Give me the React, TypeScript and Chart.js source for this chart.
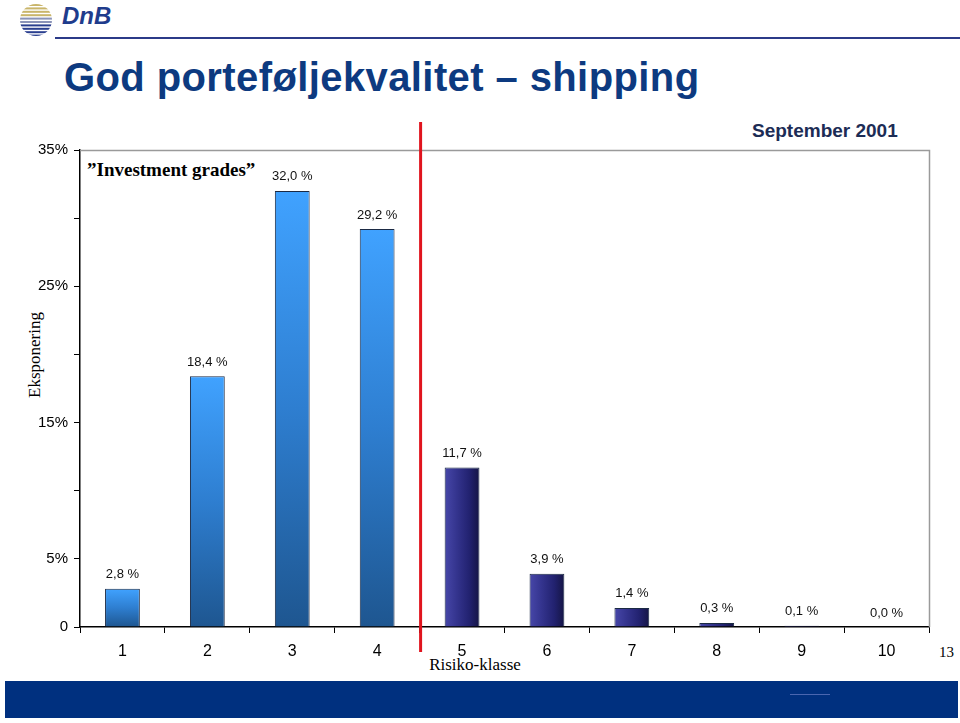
import React, { useEffect, useRef } from "react";
import { Chart, registerables } from "chart.js";

Chart.register(...registerables);

const categories = ["1", "2", "3", "4", "5", "6", "7", "8", "9", "10"];
const exposure = [2.8, 18.4, 32.0, 29.2, 11.7, 3.9, 1.4, 0.3, 0.1, 0.0];
const yTickLabels: Record<number, string> = { 0: "0", 5: "5%", 15: "15%", 25: "25%", 35: "35%" };
const investmentGradeCount = 4;

const SANS = "'Liberation Sans', Arial, sans-serif";
const SERIF = "'Liberation Serif', 'Times New Roman', serif";

export default function App() {
  const ref = useRef<HTMLCanvasElement>(null);

  useEffect(() => {
    const canvas = ref.current;
    if (!canvas) return;

    const barColor = (c: any) => {
      const chart = c.chart;
      const i = c.dataIndex;
      const xs = chart.scales?.x;
      const ys = chart.scales?.y;
      if (!xs || !ys || !chart.chartArea || i === undefined) return "#2a6ab0";
      const g = chart.ctx;
      if (i < investmentGradeCount) {
        const top = ys.getPixelForValue(exposure[i]);
        const bottom = ys.getPixelForValue(0);
        if (!isFinite(top) || bottom - top < 1) return "#2a6ab0";
        const gr = g.createLinearGradient(0, top, 0, bottom);
        gr.addColorStop(0, "#40a2ff");
        gr.addColorStop(0.5, "#2e7ed0");
        gr.addColorStop(1, "#1e5690");
        return gr;
      }
      const cx = xs.getPixelForValue(i);
      const half = 18;
      const gr = g.createLinearGradient(cx - half, 0, cx + half, 0);
      gr.addColorStop(0, "#4848aa");
      gr.addColorStop(0.35, "#34348e");
      gr.addColorStop(0.7, "#222270");
      gr.addColorStop(1, "#141442");
      return gr;
    };

    const extras = {
      id: "extras",
      beforeDatasetsDraw(chart: any) {
        const { ctx, chartArea: a } = chart;
        ctx.save();
        ctx.strokeStyle = "#9a9a9a";
        ctx.lineWidth = 1.5;
        ctx.beginPath();
        ctx.moveTo(a.left, a.top + 0.5);
        ctx.lineTo(a.right + 0.5, a.top + 0.5);
        ctx.lineTo(a.right + 0.5, a.bottom);
        ctx.stroke();
        ctx.restore();
      },
      afterDatasetsDraw(chart: any) {
        const { ctx } = chart;
        const meta = chart.getDatasetMeta(0);
        ctx.save();
        ctx.fillStyle = "#111";
        ctx.font = `13px ${SANS}`;
        ctx.textAlign = "center";
        ctx.textBaseline = "middle";
        meta.data.forEach((el: any, i: number) => {
          const txt = exposure[i].toFixed(1).replace(".", ",") + " %";
          ctx.fillText(txt, el.x, el.y - 14);
        });
        ctx.restore();
      },
      afterDraw(chart: any) {
        const { ctx } = chart;
        const xs = chart.scales.x;
        const x = (xs.getPixelForValue(investmentGradeCount - 1) + xs.getPixelForValue(investmentGradeCount)) / 2;
        ctx.save();
        ctx.strokeStyle = "#e0141e";
        ctx.lineWidth = 3;
        ctx.beginPath();
        ctx.moveTo(x + 1, 122);
        ctx.lineTo(x + 1, 652);
        ctx.stroke();
        ctx.restore();
      },
    };

    const chart = new Chart(canvas, {
      type: "bar",
      data: {
        labels: categories,
        datasets: [
          {
            data: exposure,
            backgroundColor: barColor as any,
            borderColor: "#1b2a44",
            borderWidth: ((c: any) => (c.raw > 0 ? 1 : 0)) as any,
            barPercentage: 0.41,
            categoryPercentage: 1,
          },
        ],
      },
      options: {
        animation: false,
        responsive: false,
        maintainAspectRatio: false,
        layout: { padding: { left: 0, right: 31, top: 150, bottom: 0 } },
        plugins: { legend: { display: false }, tooltip: { enabled: false }, title: { display: false } },
        scales: {
          x: {
            grid: { display: true, drawOnChartArea: false, drawTicks: true, tickLength: 6, color: "#000", offset: true },
            border: { color: "#000", width: 1.5 },
            ticks: { font: { family: SANS, size: 16 }, color: "#000", padding: 9 },
            afterFit: (s: any) => {
              s.height = 96;
            },
          },
          y: {
            min: 0,
            max: 35,
            ticks: {
              stepSize: 5,
              callback: (v: any) => yTickLabels[Number(v)] ?? "",
              font: { family: SANS, size: 15 },
              color: "#000",
              padding: 6,
            },
            grid: { display: true, drawOnChartArea: false, drawTicks: true, tickLength: 6, color: "#000" },
            border: { color: "#000", width: 1.5 },
            afterFit: (s: any) => {
              s.width = 80;
            },
          },
        },
      },
      plugins: [extras],
    });

    return () => chart.destroy();
  }, []);

  const abs = (style: React.CSSProperties): React.CSSProperties => ({ position: "absolute", margin: 0, whiteSpace: "nowrap", ...style });

  return (
    <div style={{ position: "absolute", left: 0, top: 0, width: 960, height: 723, background: "#fff", overflow: "hidden" }}>
      <svg style={abs({ left: 18, top: 2 })} width={36} height={36} viewBox="0 0 36 36">
        <defs>
          <clipPath id="lg">
            <circle cx="18" cy="18" r="16" />
          </clipPath>
        </defs>
        <g clipPath="url(#lg)">
          <rect x="0" y="0" width="36" height="36" fill="#fff" />
          {[0, 1, 2, 3, 4, 5, 6, 7, 8, 9].map((k) => (
            <rect key={k} x="0" y={2 + k * 3.4} width="36" height="2" fill={k < 4 ? "#c9b56a" : k < 6 ? "#8a93b8" : "#2a3f8f"} />
          ))}
        </g>
      </svg>
      <div style={abs({ left: 62, top: 2, font: `italic bold 24px ${SANS}`, color: "#1f3c8c" })}>DnB</div>
      <div style={abs({ left: 55, top: 37, width: 905, height: 2, background: "#2b3a88" })} />
      <div style={abs({ left: 64, top: 55, font: `bold 40px ${SANS}`, letterSpacing: "0.4px", color: "#0d3a80" })}>
        God porteføljekvalitet – shipping
      </div>
      <div style={abs({ left: 752, top: 120, font: `bold 19px ${SANS}`, color: "#1c2c55" })}>September 2001</div>
      <div style={abs({ left: 87, top: 159, font: `bold 19px ${SERIF}`, color: "#000" })}>”Investment grades”</div>
      <div
        style={abs({
          left: 35,
          top: 355,
          font: `17px ${SERIF}`,
          color: "#000",
          transform: "translate(-50%, -50%) rotate(-90deg)",
        })}
      >
        Eksponering
      </div>
      <div style={abs({ left: 475, top: 665, font: `17px ${SERIF}`, color: "#000", transform: "translate(-50%, -50%)" })}>Risiko-klasse</div>
      <div style={abs({ left: 939, top: 644, font: `15px ${SERIF}`, color: "#000" })}>13</div>
      <canvas ref={ref} width={960} height={723} style={abs({ left: 0, top: 0, width: 960, height: 723 })} />
      <div style={abs({ left: 5, top: 681, width: 953, height: 37, background: "#00307f" })} />
      <div style={abs({ left: 790, top: 694, width: 40, height: 1, background: "#4a66b0" })} />
    </div>
  );
}
